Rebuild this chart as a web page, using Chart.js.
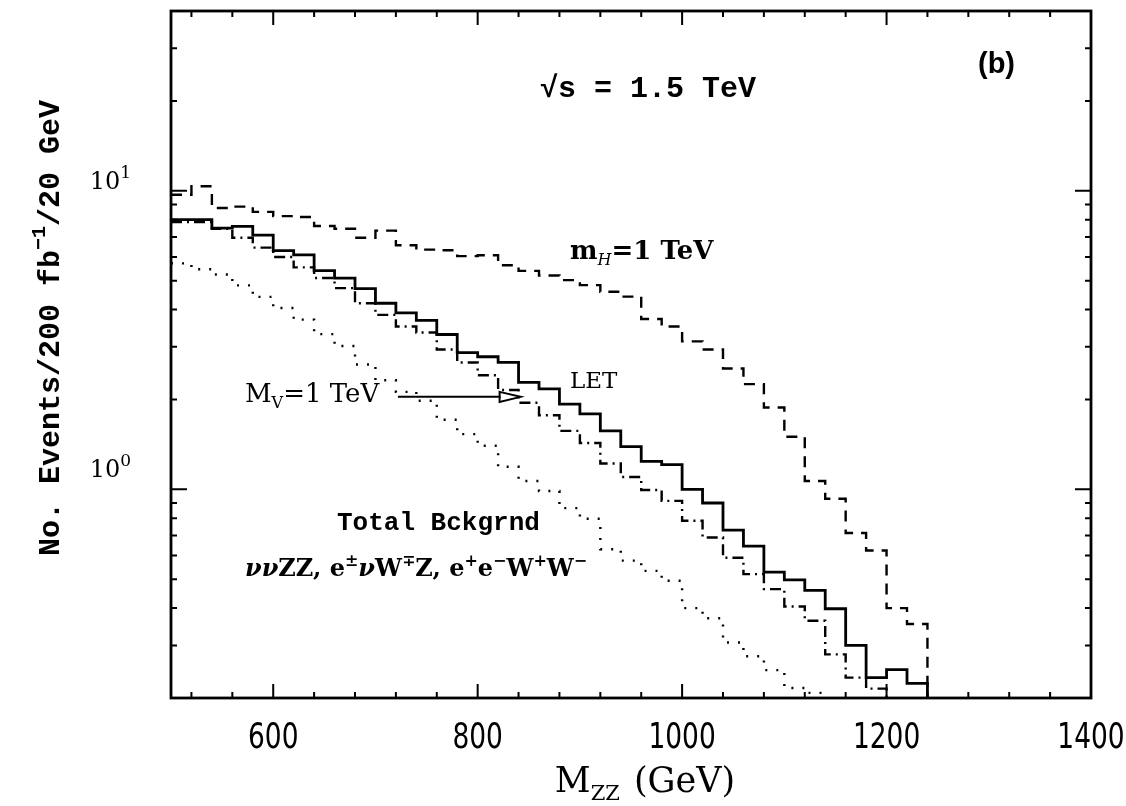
<!DOCTYPE html>
<html>
<head>
<meta charset="utf-8">
<script src="https://cdn.jsdelivr.net/npm/chart.js@4.4.0/dist/chart.umd.min.js"></script>
<style>
  body { margin: 0; background: #fff; }
  #wrap { width: 1126px; height: 806px; }
</style>
</head>
<body>
<div id="wrap"><canvas id="mzzChart"></canvas></div>
<script>
// 20 GeV bins, lower edges (GeV)
var binWidth = 20;
var binLow = [500, 520, 540, 560, 580, 600, 620, 640, 660, 680, 700, 720, 740, 760, 780, 800, 820, 840, 860,
              880, 900, 920, 940, 960, 980, 1000, 1020, 1040, 1060, 1080, 1100, 1120, 1140, 1160, 1180, 1200, 1220];

// events / 200 fb^-1 / 20 GeV
var letEvents = [8.0, 8.0, 7.5, 7.6, 7.1, 6.3, 6.1, 5.4, 5.1, 4.7, 4.2, 3.9, 3.68, 3.3, 2.87, 2.78, 2.66, 2.28, 2.17,
                 1.93, 1.79, 1.57, 1.39, 1.24, 1.21, 1.0, 0.90, 0.73, 0.645, 0.528, 0.497, 0.459, 0.398, 0.30, 0.234, 0.249, 0.224];
var higgsEvents = [9.7, 10.35, 8.75, 8.85, 8.5, 8.22, 8.17, 7.62, 7.46, 6.96, 7.35, 6.57, 6.35, 6.32, 6.04, 6.08, 5.63, 5.39, 5.2,
                   5.02, 4.83, 4.59, 4.42, 3.72, 3.51, 3.13, 2.94, 2.54, 2.25, 1.88, 1.50, 1.066, 0.93, 0.714, 0.624, 0.40, 0.354];
var vectorEvents = [7.85, 7.85, 7.45, 6.96, 6.45, 6.0, 5.54, 5.1, 4.72, 4.2, 3.84, 3.51, 3.35, 2.94, 2.66, 2.41, 2.15, 1.95, 1.77,
                    1.57, 1.43, 1.22, 1.10, 0.995, 0.915, 0.785, 0.69, 0.59, 0.52, 0.463, 0.405, 0.363, 0.28, 0.234, 0.215];
var bkgEvents = [5.71, 5.46, 5.24, 4.82, 4.41, 4.05, 3.70, 3.31, 3.02, 2.62, 2.32, 2.12, 1.98, 1.71, 1.53, 1.40, 1.19, 1.066, 0.987,
                 0.865, 0.797, 0.63, 0.577, 0.533, 0.494, 0.40, 0.37, 0.307, 0.276, 0.248, 0.216, 0.208];

var xTicks = [600, 800, 1000, 1200, 1400];
var yTicks = [1, 10];
var yTickExp = ['0', '1'];

var xMin = 500, xMax = 1400, yMin = 0.2, yMax = 40;

var serif = "'DejaVu Serif', 'Liberation Serif', serif";
var mono = "'Liberation Mono', 'DejaVu Sans Mono', monospace";
var narrow = "'DejaVu Sans Condensed', 'Liberation Sans Narrow', 'Liberation Sans', sans-serif";

// histogram outline: one point per bin edge, closing down to the axis
function histPoints(values) {
    var pts = [];
    values.forEach(function(v, i) {
        pts.push({x: binLow[i], y: v});
    });
    var end = binLow[values.length - 1] + binWidth;
    pts.push({x: end, y: values[values.length - 1]});
    pts.push({x: end, y: yMin});
    return pts;
}

function histSet(values, dash, width) {
    return {
        data: histPoints(values),
        borderColor: '#000',
        borderWidth: width,
        borderDash: dash,
        stepped: 'before',
        fill: false,
        pointRadius: 0
    };
}

function drawParts(ctx, parts, x, y, align) {
    var total = 0;
    parts.forEach(function(p) {
        ctx.font = p.font;
        p.w = ctx.measureText(p.text).width;
        total += p.w + (p.gap || 0);
    });
    var cx = x;
    if (align === 'center') cx = x - total / 2;
    if (align === 'right') cx = x - total;
    parts.forEach(function(p) {
        ctx.font = p.font;
        ctx.fillText(p.text, cx, y + (p.dy || 0));
        cx += p.w + (p.gap || 0);
    });
}

var framePlugin = {
    id: 'frameTicks',
    afterDraw: function(chart) {
        var ctx = chart.ctx;
        var a = chart.chartArea;
        var xs = chart.scales.x, ys = chart.scales.y;
        ctx.save();
        ctx.strokeStyle = '#000';
        ctx.fillStyle = '#000';
        ctx.lineWidth = 2.8;
        ctx.strokeRect(a.left, a.top, a.right - a.left, a.bottom - a.top);

        // x ticks, inward on bottom and top
        ctx.lineWidth = 2;
        for (var m = 520; m < xMax; m += 40) {
            var px = xs.getPixelForValue(m);
            var len = (m % 200 === 0) ? 14 : 6;
            ctx.beginPath();
            ctx.moveTo(px, a.bottom); ctx.lineTo(px, a.bottom - len);
            ctx.moveTo(px, a.top); ctx.lineTo(px, a.top + len);
            ctx.stroke();
        }
        // y ticks, inward on left and right
        [0.1, 1, 10].forEach(function(d) {
            for (var k = 1; k < 10; k++) {
                var v = d * k;
                if (v < yMin || v > yMax) continue;
                var py = ys.getPixelForValue(v);
                var len = (k === 1) ? 16 : 6;
                ctx.beginPath();
                ctx.moveTo(a.left, py); ctx.lineTo(a.left + len, py);
                ctx.moveTo(a.right, py); ctx.lineTo(a.right - len, py);
                ctx.stroke();
            }
        });

        // tick labels (x labels squeezed horizontally)
        ctx.textAlign = 'left';
        ctx.textBaseline = 'alphabetic';
        xTicks.forEach(function(t) {
            ctx.save();
            ctx.translate(xs.getPixelForValue(t), 748);
            ctx.scale(0.84, 1);
            drawParts(ctx, [{text: String(t), font: '35px ' + narrow}], 0, 0, 'center');
            ctx.restore();
        });
        yTicks.forEach(function(t, i) {
            var py = ys.getPixelForValue(t);
            drawParts(ctx, [
                {text: '10', font: '24px ' + serif},
                {text: yTickExp[i], font: '17px ' + serif, dy: -11}
            ], 131, py + (i === 0 ? -12 : -2), 'right');
        });

        // axis titles
        drawParts(ctx, [
            {text: 'M', font: '35px ' + serif},
            {text: 'ZZ', font: '21px ' + serif, dy: 8, gap: 14},
            {text: '(GeV)', font: '35px ' + serif}
        ], 645, 792, 'center');

        ctx.save();
        ctx.translate(59, 328);
        ctx.rotate(-Math.PI / 2);
        drawParts(ctx, [
            {text: 'No. Events/200 fb', font: 'bold 30px ' + mono},
            {text: '\u22121', font: 'bold 20px ' + mono, dy: -14},
            {text: '/20 GeV', font: 'bold 30px ' + mono}
        ], 0, 0, 'center');
        ctx.restore();

        // annotations
        drawParts(ctx, [{text: '\u221As = 1.5 TeV', font: 'bold 30px ' + mono}], 540, 97, 'left');
        drawParts(ctx, [{text: '(b)', font: 'bold 29px ' + "'Liberation Sans', sans-serif"}], 978, 73, 'left');
        drawParts(ctx, [
            {text: 'm', font: 'bold 26px ' + serif},
            {text: 'H', font: 'italic 16px ' + serif, dy: 6},
            {text: '=1 TeV', font: 'bold 26px ' + serif}
        ], 570, 259, 'left');
        drawParts(ctx, [{text: 'LET', font: '23px ' + serif}], 570, 388, 'left');
        drawParts(ctx, [
            {text: 'M', font: '26px ' + serif},
            {text: 'V', font: '16px ' + serif, dy: 6},
            {text: '=1 TeV', font: '26px ' + serif}
        ], 245, 402, 'left');
        drawParts(ctx, [{text: 'Total Bckgrnd', font: 'bold 26px ' + mono}], 337, 530, 'left');
        var big = 'bold 24px ' + serif, nu = 'italic bold 24px ' + serif, sup = 'bold 16px ' + serif;
        drawParts(ctx, [
            {text: '\u03BD\u03BD', font: nu},
            {text: 'ZZ, e', font: big},
            {text: '\u00B1', font: sup, dy: -10},
            {text: '\u03BD', font: nu},
            {text: 'W', font: big},
            {text: '\u2213', font: sup, dy: -10},
            {text: 'Z, e', font: big},
            {text: '+', font: sup, dy: -10},
            {text: 'e', font: big},
            {text: '\u2212', font: sup, dy: -10},
            {text: 'W', font: big},
            {text: '+', font: sup, dy: -10},
            {text: 'W', font: big},
            {text: '\u2212', font: sup, dy: -10}
        ], 245, 576, 'left');

        // arrow from the M_V label to the dash-dot histogram
        var ay = ys.getPixelForValue(2.04);
        var ax0 = xs.getPixelForValue(722), ax1 = xs.getPixelForValue(842);
        ctx.lineWidth = 2;
        ctx.beginPath();
        ctx.moveTo(ax0, ay); ctx.lineTo(ax1 - 20, ay);
        ctx.stroke();
        ctx.beginPath();
        ctx.moveTo(ax1 - 21, ay - 5);
        ctx.lineTo(ax1, ay);
        ctx.lineTo(ax1 - 21, ay + 5);
        ctx.closePath();
        ctx.stroke();
        ctx.restore();
    }
};

var ctx = document.getElementById('mzzChart').getContext('2d');
var mzzChart = new Chart(ctx, {
    type: 'line',
    data: {
        datasets: [
            histSet(letEvents, [], 2.8),
            histSet(higgsEvents, [11, 8], 2.4),
            histSet(vectorEvents, [11, 5, 2, 5], 2.4),
            histSet(bkgEvents, [2, 9], 2.4)
        ]
    },
    options: {
        responsive: true,
        maintainAspectRatio: false,
        animation: false,
        layout: {padding: {left: 171, top: 11, right: 35, bottom: 108}},
        plugins: {
            legend: {display: false},
            tooltip: {enabled: false}
        },
        scales: {
            x: {type: 'linear', min: xMin, max: xMax, display: false},
            y: {type: 'logarithmic', min: yMin, max: yMax, display: false}
        }
    },
    plugins: [framePlugin]
});
</script>
</body>
</html>
